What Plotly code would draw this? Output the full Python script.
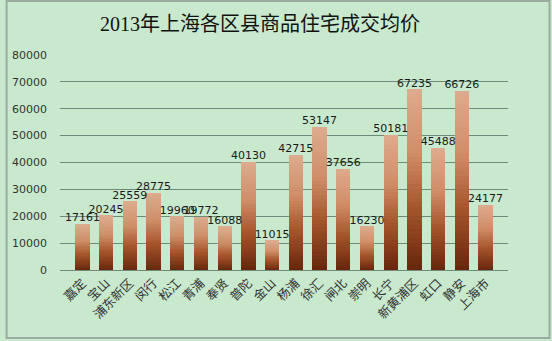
import plotly.graph_objects as go

# 2013 Shanghai new-home average transaction price by district (yuan / m²)
districts = ["嘉定", "宝山", "浦东新区", "闵行", "松江", "青浦", "奉贤", "普陀", "金山",
             "杨浦", "徐汇", "闸北", "崇明", "长宁", "新黄浦区", "虹口", "静安", "上海市"]
prices = [17161, 20245, 25559, 28775, 19960, 19772, 16088, 40130, 11015,
          42715, 53147, 37656, 16230, 50181, 67235, 45488, 66726, 24177]
y_ticks = [0, 10000, 20000, 30000, 40000, 50000, 60000, 70000, 80000]

# vertical gradient for each bar: dark brown at the base, light tan at the top
stops = [(0.0, (102, 38, 12)), (0.35, (166, 86, 44)), (0.65, (207, 142, 104)), (1.0, (220, 172, 142))]


def blend(t):
    for (t0, c0), (t1, c1) in zip(stops, stops[1:]):
        if t <= t1:
            f = (t - t0) / (t1 - t0)
            return "rgb(%d,%d,%d)" % tuple(round(a + (b - a) * f) for a, b in zip(c0, c1))
    return "rgb(%d,%d,%d)" % stops[-1][1]


N = 40
fig = go.Figure()
for k in range(N):
    fig.add_trace(go.Bar(
        x=districts,
        y=[p / N for p in prices],
        marker=dict(color=blend((k + 0.5) / N), line=dict(width=0)),
        width=0.6,
        hoverinfo="skip",
        showlegend=False,
    ))

fig.add_trace(go.Scatter(
    x=districts, y=prices, mode="text",
    text=[str(p) for p in prices],
    textposition="top center",
    textfont=dict(family="DejaVu Sans", size=11, color="#1a1a1a"),
    showlegend=False, hoverinfo="skip",
))

W, H = 552, 341
L, R, T, B = 55, 44, 55, 71
pw, ph = W - L - R, H - T - B


def px_x(v):
    return (v - L) / pw


def px_y(v):
    return (H - B - v) / ph


fig.update_layout(
    width=W, height=H,
    margin=dict(l=L, r=R, t=T, b=B),
    barmode="stack", bargap=0.4,
    paper_bgcolor="#c8e9cd", plot_bgcolor="#c8e9cd",
    title=dict(text="2013年上海各区县商品住宅成交均价",
               x=260 / W, xanchor="center", y=1 - 24 / H, yanchor="middle",
               font=dict(family="Liberation Serif, Noto Sans CJK SC", size=20, color="#111")),
    xaxis=dict(tickangle=-45, tickfont=dict(family="Noto Sans CJK SC", size=12.5, color="#333"),
               showline=True, linecolor="#6f8a7a", linewidth=1, ticks="", showgrid=False),
    yaxis=dict(range=[0, 80000], tickvals=y_ticks, ticktext=[str(v) for v in y_ticks],
               tickfont=dict(family="DejaVu Sans", size=11, color="#333"),
               showgrid=True, gridcolor="#6f8a7a", gridwidth=1, zeroline=False,
               ticklabelstandoff=12, showline=False),
    shapes=[dict(type="rect", xref="paper", yref="paper",
                 x0=px_x(1), x1=px_x(W - 2), y0=px_y(H - 3), y1=px_y(1),
                 line=dict(color="#9aaba0", width=2), fillcolor="rgba(0,0,0,0)")],
)

fig.write_html("out.html")
